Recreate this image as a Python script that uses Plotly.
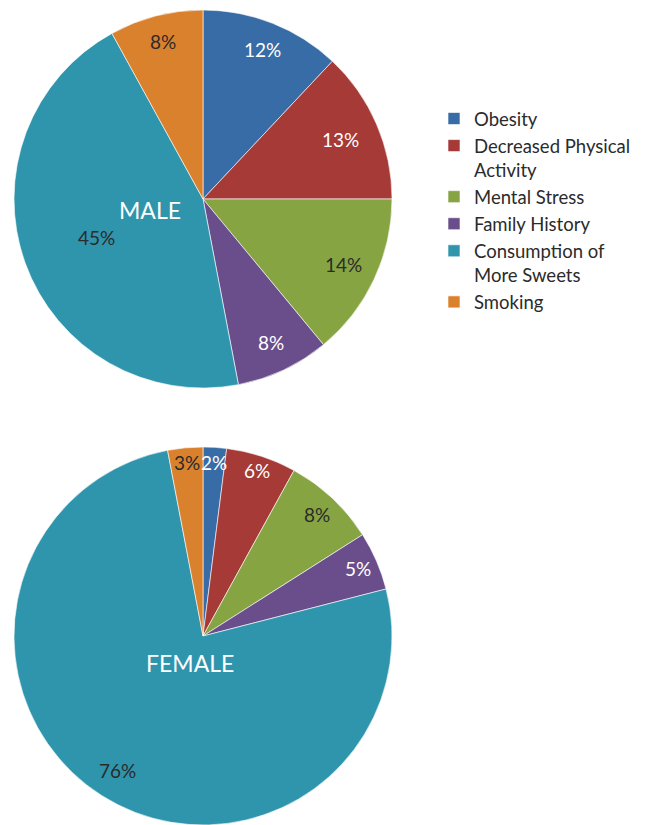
import math
import plotly.graph_objects as go

categories = ["Obesity", "Decreased Physical<br>Activity", "Mental Stress",
              "Family History", "Consumption of<br>More Sweets", "Smoking"]
male_values = [12, 13, 14, 8, 45, 8]
female_values = [2, 6, 8, 5, 76, 3]
male_title = "MALE"
female_title = "FEMALE"

# styles
colors = ["#386CA6", "#A53A37", "#87A443", "#6A4E8C", "#2F95AC", "#DA812D"]
text_colors = ["white", "white", "#2b2b2b", "white", "#2b2b2b", "#2b2b2b"]
male_label_radius = [0.85, 0.79, 0.82, 0.84, 0.6, 0.86]
female_label_radius = [0.92, 0.92, 0.88, 0.895, 0.84, 0.92]
FONT = "Lato, Open Sans, sans-serif"
W, H = 651, 825
PIE_X = (14, 392)            # pixel extents (left, right)
MALE_Y = (10, 388)           # pixel extents (top, bottom)
FEMALE_Y = (447, 825)


def domain(px_x, px_y):
    return dict(x=[px_x[0] / W, px_x[1] / W], y=[1 - px_y[1] / H, 1 - px_y[0] / H])


def label_annotations(values, radii, px_x, px_y):
    cx = (px_x[0] + px_x[1]) / 2
    cy = (px_y[0] + px_y[1]) / 2
    r = (px_x[1] - px_x[0]) / 2
    total = sum(values)
    anns = []
    cum = 0
    for v, rf, tc in zip(values, radii, text_colors):
        mid = (cum + v / 2) / total * 2 * math.pi
        cum += v
        x = cx + rf * r * math.sin(mid)
        y = cy - rf * r * math.cos(mid)
        anns.append(dict(text=f"{v}%", x=x / W, y=1 - y / H, xref="paper", yref="paper",
                         xanchor="center", yanchor="middle", showarrow=False,
                         font=dict(family=FONT, size=19, color=tc)))
    return anns


fig = go.Figure()
for vals, py, leg in [(male_values, MALE_Y, "legend"), (female_values, FEMALE_Y, "legend2")]:
    fig.add_trace(go.Pie(
        labels=categories, values=vals, sort=False, direction="clockwise",
        rotation=0, marker=dict(colors=colors, line=dict(color="white", width=0.6)),
        textinfo="none", domain=domain(PIE_X, py),
        legend=leg, hoverinfo="label+value",
    ))

legend_style = dict(font=dict(family=FONT, size=18.5, color="#2b2b2b"), valign="top",
                    xanchor="left", yanchor="top", bgcolor="rgba(0,0,0,0)",
                    itemclick=False, itemdoubleclick=False, tracegroupgap=0)

annotations = (label_annotations(male_values, male_label_radius, PIE_X, MALE_Y)
               + label_annotations(female_values, female_label_radius, PIE_X, FEMALE_Y))
annotations += [
    dict(text=male_title, x=150 / W, y=1 - 210 / H, xref="paper", yref="paper",
         xanchor="center", yanchor="middle", showarrow=False,
         font=dict(family=FONT, size=23, color="white")),
    dict(text=female_title, x=190 / W, y=1 - 663 / H, xref="paper", yref="paper",
         xanchor="center", yanchor="middle", showarrow=False,
         font=dict(family=FONT, size=23, color="white")),
]

fig.update_layout(
    width=W, height=H, margin=dict(l=0, r=0, t=0, b=0, autoexpand=False),
    paper_bgcolor="white", plot_bgcolor="white",
    legend=dict(x=434 / W, y=1 - 100 / H, **legend_style),
    legend2=dict(x=434 / W, y=1 - 527 / H, **legend_style),
    annotations=annotations,
)
fig.write_html("out.html", config={"displayModeBar": False},
               post_script="document.body.style.margin='0';")
